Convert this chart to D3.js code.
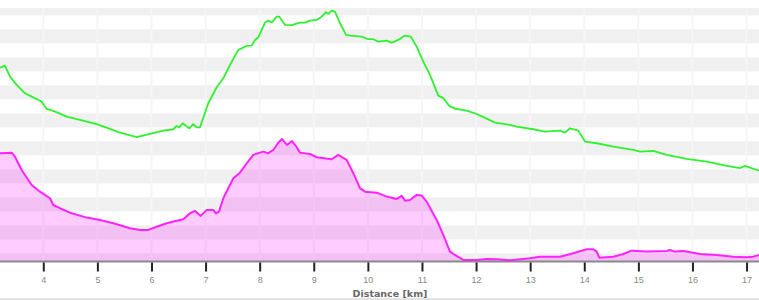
<!DOCTYPE html>
<html>
<head>
<meta charset="utf-8">
<script src="https://cdn.jsdelivr.net/npm/d3@7"></script>
<style>
	body { margin: 0; background: #fff; }
	svg { display: block; font-family: "DejaVu Sans", Verdana, sans-serif; }
</style>
</head>
<body>
<div id="chart"></div>
<script>

// distance ticks shown on the axis
var kmTicks = [4, 5, 6, 7, 8, 9, 10, 11, 12, 13, 14, 15, 16, 17];

// green series (distance km, value)
var greenKm = [3.200, 3.292, 3.385, 3.509, 3.662, 3.786, 3.939, 3.971, 4.063, 4.185, 4.433, 4.679, 4.987, 5.172, 5.387, 5.727, 5.973, 6.219, 6.403, 6.466, 6.509, 6.577, 6.699, 6.773, 6.836, 6.897, 7.050, 7.206, 7.328, 7.451, 7.605, 7.760, 7.853, 7.913, 7.975, 8.098, 8.159, 8.222, 8.315, 8.363, 8.468, 8.592, 8.745, 8.838, 8.930, 9.054, 9.146, 9.226, 9.268, 9.331, 9.392, 9.485, 9.596, 9.670, 9.886, 10.008, 10.100, 10.193, 10.348, 10.440, 10.562, 10.686, 10.792, 10.902, 11.024, 11.148, 11.302, 11.394, 11.505, 11.610, 11.827, 12.011, 12.196, 12.350, 12.627, 12.751, 13.058, 13.274, 13.551, 13.644, 13.736, 13.890, 14.013, 14.230, 14.537, 14.906, 15.030, 15.276, 15.523, 15.893, 16.263, 16.633, 16.878, 16.971, 17.063, 17.230];
var greenVal = [138.1, 139.5, 131.7, 125.8, 119.8, 117.4, 114.5, 113.8, 108.6, 107.2, 103.1, 100.8, 97.7, 95.3, 92.0, 88.4, 90.8, 93.1, 94.1, 96.5, 95.3, 98.4, 94.8, 97.7, 95.5, 95.5, 112.7, 124.1, 130.5, 140.0, 150.8, 153.6, 153.8, 157.9, 159.8, 170.3, 171.7, 170.3, 174.5, 174.5, 168.6, 168.4, 170.3, 170.3, 171.7, 172.2, 174.5, 177.7, 176.5, 178.8, 178.1, 169.8, 161.5, 161.0, 160.3, 158.4, 158.4, 156.7, 157.4, 156.0, 157.9, 161.0, 160.3, 153.1, 142.4, 132.9, 118.1, 116.3, 110.8, 108.8, 107.4, 105.0, 101.7, 98.8, 97.2, 96.0, 94.1, 92.4, 93.1, 91.7, 94.8, 93.1, 85.3, 84.1, 81.7, 79.3, 78.1, 78.6, 75.8, 72.9, 71.0, 67.9, 66.3, 67.9, 66.7, 64.5];

// magenta series (distance km, value)
var pinkKm = [3.200, 3.416, 3.477, 3.601, 3.786, 3.939, 4.124, 4.185, 4.309, 4.494, 4.803, 5.048, 5.294, 5.603, 5.788, 5.941, 6.097, 6.281, 6.466, 6.588, 6.712, 6.804, 6.910, 7.021, 7.143, 7.193, 7.248, 7.328, 7.513, 7.636, 7.760, 7.882, 8.006, 8.067, 8.159, 8.252, 8.339, 8.413, 8.505, 8.597, 8.671, 8.745, 8.930, 9.054, 9.331, 9.453, 9.608, 9.731, 9.854, 9.947, 10.163, 10.348, 10.533, 10.625, 10.686, 10.779, 10.902, 10.995, 11.087, 11.272, 11.394, 11.518, 11.610, 11.764, 12.011, 12.196, 12.381, 12.627, 12.688, 12.997, 13.182, 13.551, 13.797, 14.045, 14.167, 14.230, 14.278, 14.537, 14.721, 14.876, 15.154, 15.523, 15.584, 15.677, 15.830, 16.139, 16.447, 16.755, 17.002, 17.124, 17.230];
var pinkVal = [77.0, 77.4, 74.5, 65.0, 54.3, 49.5, 44.8, 40.0, 37.7, 34.5, 31.0, 29.3, 27.0, 23.4, 22.2, 22.2, 24.5, 27.0, 28.8, 29.8, 34.1, 35.8, 32.2, 36.5, 36.5, 34.1, 35.3, 44.8, 59.1, 63.1, 69.8, 75.8, 77.4, 78.1, 77.0, 79.3, 84.3, 87.1, 82.9, 85.7, 82.1, 77.4, 76.5, 74.1, 72.7, 75.8, 72.2, 62.7, 52.0, 49.5, 48.8, 46.0, 44.3, 46.5, 43.1, 43.6, 47.2, 46.7, 42.4, 29.3, 18.6, 6.7, 4.3, 0.8, 0.8, 1.5, 1.3, 0.5, 0.8, 2.0, 3.1, 3.1, 5.5, 8.4, 8.4, 6.7, 2.4, 3.1, 5.0, 7.4, 6.7, 7.2, 7.9, 6.7, 7.2, 5.0, 4.3, 3.1, 2.7, 3.1, 4.3];

// hidden value axis: band every 10 units, first band edge at 5.4
var bandStep = 10,
	bandStart = -4.6;

var width = 759,
	height = 300,
	plot = {top: 8, bottom: 261};

var svg = d3.select("#chart")
	.append("svg")
	.attr("width", width)
	.attr("height", height);

var x = d3.scaleLinear()
	.domain([3.2, 17.23])
	.range([0, width]);

var y = d3.scaleLinear()
	.domain([0, 180.7])
	.range([plot.bottom, plot.top]);

svg.append("clipPath")
	.attr("id", "plotclip")
	.append("rect")
	.attr("x", 0)
	.attr("y", plot.top)
	.attr("width", width)
	.attr("height", plot.bottom - plot.top);

var grid = svg.append("g").attr("clip-path", "url(#plotclip)");

// alternating horizontal bands
grid.selectAll("rect.band")
	.data(d3.range(bandStart, 190, bandStep * 2))
	.enter()
	.append("rect")
	.attr("class", "band")
	.attr("x", 0)
	.attr("width", width)
	.attr("y", function(d){ return y(d + bandStep); })
	.attr("height", function(d){ return y(d) - y(d + bandStep); })
	.attr("fill", "#f0f0f0");

// vertical grid lines (lighter than the grey bands, darker than white)
grid.selectAll("line.vgrid")
	.data(kmTicks)
	.enter()
	.append("line")
	.attr("class", "vgrid")
	.attr("x1", function(d){ return x(d); })
	.attr("x2", function(d){ return x(d); })
	.attr("y1", plot.top)
	.attr("y2", plot.bottom)
	.attr("stroke", "#f5f5f5")
	.attr("stroke-width", 2);

var greenData = greenKm.map(function(d, i){ return {km: d, v: greenVal[i]}; });
var pinkData = pinkKm.map(function(d, i){ return {km: d, v: pinkVal[i]}; });

var marks = svg.append("g").attr("clip-path", "url(#plotclip)");

// x axis baseline
svg.append("line")
	.attr("x1", 0)
	.attr("x2", width)
	.attr("y1", plot.bottom + 0.5)
	.attr("y2", plot.bottom + 0.5)
	.attr("stroke", "#8a8a8a")
	.attr("stroke-width", 2);

// magenta area and line
marks.append("path")
	.datum(pinkData)
	.attr("fill", "rgba(255, 0, 255, 0.2)")
	.attr("d", d3.area()
		.x(function(d){ return x(d.km); })
		.y0(plot.bottom + 2)
		.y1(function(d){ return y(d.v); }));

svg.append("path")
	.datum(pinkData)
	.attr("fill", "none")
	.attr("stroke", "#ff22ff")
	.attr("stroke-width", 2)
	.attr("stroke-linejoin", "round")
	.attr("d", d3.line()
		.x(function(d){ return x(d.km); })
		.y(function(d){ return y(d.v); }));

// green line
svg.append("path")
	.datum(greenData)
	.attr("fill", "none")
	.attr("stroke", "#2ef22e")
	.attr("stroke-width", 1.8)
	.attr("stroke-linejoin", "round")
	.attr("d", d3.line()
		.x(function(d){ return x(d.km); })
		.y(function(d){ return y(d.v); }));

// x axis ticks and labels
var xAxis = d3.axisBottom(x)
	.tickValues(kmTicks)
	.tickSize(9)
	.tickPadding(5)
	.tickFormat(d3.format("d"));

var axisg = svg.append("g")
	.attr("transform", "translate(0," + (plot.bottom + 1.5) + ")")
	.call(xAxis);

axisg.select(".domain").remove();
axisg.selectAll(".tick line")
	.attr("stroke", "#222")
	.attr("stroke-width", 2);
axisg.selectAll(".tick text")
	.attr("fill", "#888")
	.style("font-size", "9px");

svg.append("text")
	.attr("x", 390)
	.attr("y", 297)
	.attr("text-anchor", "middle")
	.attr("fill", "#666")
	.style("font-size", "9.5px")
	.style("font-weight", "bold")
	.text("Distance [km]");

// bottom rule
svg.append("line")
	.attr("x1", 0)
	.attr("x2", width)
	.attr("y1", 299)
	.attr("y2", 299)
	.attr("stroke", "#c8c8c8")
	.attr("stroke-width", 1);

</script>
</body>
</html>
